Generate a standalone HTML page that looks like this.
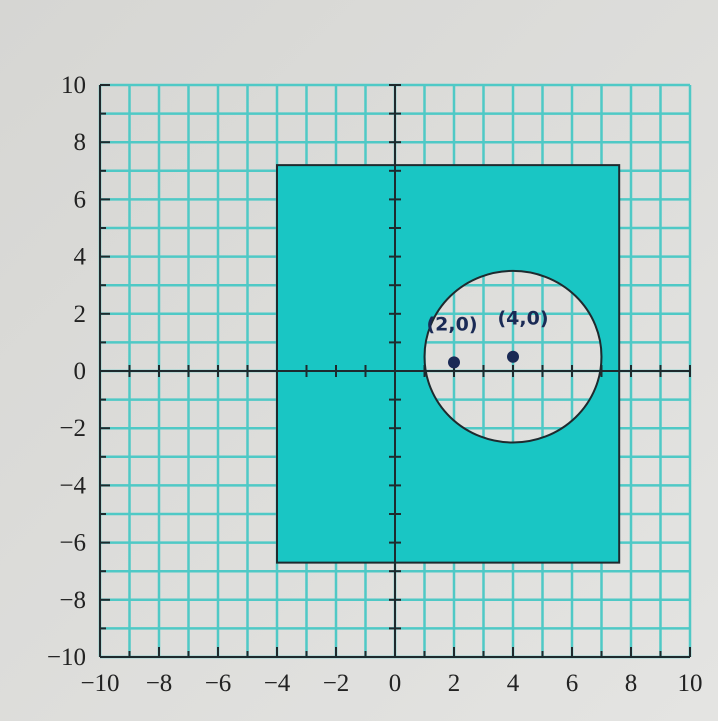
<!DOCTYPE html>
<html><head><meta charset="utf-8"><style>
html,body{margin:0;padding:0;background:#d9d9d6;}
svg{display:block;}
</style></head><body>
<svg id="chart" width="718" height="721" viewBox="0 0 718 721" xmlns="http://www.w3.org/2000/svg">
<defs><linearGradient id="bg" x1="0" y1="0" x2="1" y2="1"><stop offset="0" stop-color="#d6d6d3"/><stop offset="1" stop-color="#e4e4e2"/></linearGradient></defs>
<rect width="718" height="721" fill="url(#bg)"/>
<g id="grid"></g>
<g id="shapes"></g>
<g id="axes"></g>
<g id="labels"></g>
<g id="notes"></g>
</svg>
<script>
const xTicks=[-10,-8,-6,-4,-2,0,2,4,6,8,10];
const yTicks=[-10,-8,-6,-4,-2,0,2,4,6,8,10];
const rectX=[-4,7.6];
const rectY=[-6.7,7.2];
const circleCenter=[4,0.5];
const circleRadius=[3];
const pointsX=[2,4];
const pointsY=[0.3,0.5];
const pointLabels=["(2,0)","(4,0)"];

const X=v=>395+v*29.5;
const Y=v=>371-v*28.6;
const NS="http://www.w3.org/2000/svg";
function mk(tag,attrs,parent){const e=document.createElementNS(NS,tag);for(const k in attrs)e.setAttribute(k,attrs[k]);parent.appendChild(e);return e;}
const grid=document.getElementById('grid'),shapes=document.getElementById('shapes'),axes=document.getElementById('axes'),labels=document.getElementById('labels'),notes=document.getElementById('notes');
const GC='#4fc9c6';
const cx0=circleCenter[0],cy0=circleCenter[1],R=circleRadius[0];
const rx=R*29.5,ry=R*28.6;
const ccx=X(cx0),ccy=Y(cy0);
const rx0=X(rectX[0]),rx1=X(rectX[1]),ry0=Y(rectY[1]),ry1=Y(rectY[0]);
let d=`M${rx0},${ry0} H${rx1} V${ry1} H${rx0} Z M${ccx-rx},${ccy} A${rx},${ry} 0 1 0 ${ccx+rx},${ccy} A${rx},${ry} 0 1 0 ${ccx-rx},${ccy} Z`;
let r=mk('path',{d:d,fill:'#19c6c4','fill-rule':'evenodd',stroke:'#1e2a2e','stroke-width':2},shapes);


for(let i=-10;i<=10;i++){
  let l=mk('line',{x1:X(i),y1:Y(10),x2:X(i),y2:Y(-10),stroke:GC,'stroke-width':2.5},grid);
  
  
  let h=mk('line',{x1:X(-10),y1:Y(i),x2:X(10),y2:Y(i),stroke:GC,'stroke-width':2.5},grid);
  
  
}

let xa=mk('line',{x1:X(-10),y1:Y(0),x2:X(10),y2:Y(0),stroke:'#1e2a2e','stroke-width':2},axes);

let ya=mk('line',{x1:X(0),y1:Y(10),x2:X(0),y2:Y(-10),stroke:'#1e2a2e','stroke-width':2},axes);

let lb=mk('line',{x1:X(-10),y1:Y(10),x2:X(-10),y2:Y(-10),stroke:'#1e2a2e','stroke-width':2},axes);

let bb=mk('line',{x1:X(-10),y1:Y(-10),x2:X(10),y2:Y(-10),stroke:'#1e2a2e','stroke-width':2},axes);

for(let i=-10;i<=10;i++){
  mk('line',{x1:X(i),y1:Y(0)-6,x2:X(i),y2:Y(0)+6,stroke:'#1e2a2e','stroke-width':2},axes);
  mk('line',{x1:X(0)-6,y1:Y(i),x2:X(0)+6,y2:Y(i),stroke:'#1e2a2e','stroke-width':2},axes);
  mk('line',{x1:X(i),y1:Y(-10),x2:X(i),y2:Y(-10)-(i%2?6:10),stroke:'#1e2a2e','stroke-width':2},axes);
  mk('line',{x1:X(-10),y1:Y(i),x2:X(-10)+(i%2?6:10),y2:Y(i),stroke:'#1e2a2e','stroke-width':2},axes);
}
xTicks.forEach(v=>{
  let t=mk('text',{x:X(v),y:Y(-10)+34,'text-anchor':'middle','font-family':'Liberation Serif, serif','font-size':25,fill:'#222'},labels);
  t.textContent=(v<0?'\u2212':'')+Math.abs(v);
  
});
yTicks.forEach(v=>{
  let t=mk('text',{x:X(-10)-14,y:Y(v)+8,'text-anchor':'end','font-family':'Liberation Serif, serif','font-size':25,fill:'#222'},labels);
  t.textContent=(v<0?'\u2212':'')+Math.abs(v);
  
});
pointsX.forEach((px,i)=>{
  let p=mk('circle',{cx:X(px),cy:Y(pointsY[i]),r:6,fill:'#1a2a55'},notes);
  
  let t=mk('text',{x:X(px)-2+i*12,y:Y(pointsY[i])-32,'text-anchor':'middle','font-family':'DejaVu Sans, sans-serif','font-size':19,'font-weight':'bold',fill:'#1a2a55'},notes);
  t.textContent=pointLabels[i];
  
});
</script>
</body></html>
